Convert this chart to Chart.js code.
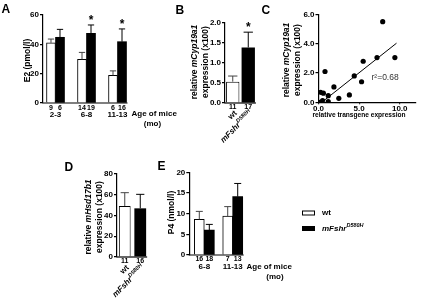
<!DOCTYPE html>
<html>
<head>
<meta charset="utf-8">
<script src="https://cdn.jsdelivr.net/npm/chart.js@4.4.1/dist/chart.umd.min.js"></script>
<style>
  html, body { margin: 0; padding: 0; background: #fff; }
  #fig { position: relative; width: 432px; height: 306px; overflow: hidden; }
  #fig canvas { position: absolute; left: 0; top: 0; }
</style>
</head>
<body>
<div id="fig">
  <canvas id="pA" width="432" height="306"></canvas>
  <canvas id="pB" width="432" height="306"></canvas>
  <canvas id="pC" width="432" height="306"></canvas>
  <canvas id="pD" width="432" height="306"></canvas>
  <canvas id="pE" width="432" height="306"></canvas>
</div>
<script>
// ---- A: serum E2 by age ----
const ageA = ['2-3', '6-8', '11-13'];
const e2Wt = [41, 29.7, 18.8];
const e2WtErr = [43.6, 34.5, 21.9];
const e2Mut = [44.8, 47.5, 41.8];
const e2MutErr = [50.2, 53.2, 50.5];
const e2NWt = [9, 14, 6];
const e2NMut = [6, 19, 16];
const e2Sig = [false, true, true];

// ---- B: mCyp19a1 ----
const genotypes = ['wt', 'mFshr'];
const mutSup = 'D580H';
const cypMean = [0.53, 1.38];
const cypErr = [0.67, 1.76];
const cypN = [11, 17];
const cypSig = [false, true];

// ---- C: mCyp19a1 vs transgene ----
const transgene = [7.9, 9.4, 7.2, 5.5, 4.4, 5.3, 3.8, 2.5, 1.9, 0.8, 0.25, 0.6, 1.2, 1.2, 0.5, 0.2];
const cyp19 = [5.5, 3.05, 3.05, 2.8, 1.8, 1.4, 0.5, 0.27, 1.05, 2.1, 0.68, 0.62, 0.45, 0.05, 0.12, 0.0];
const fitX = [0.4, 9.6];
const fitY = [0, 4.03];
const r2Text = 'r\u00b2=0.68';

// ---- D: mHsd17b1 ----
const hsdMean = [49.2, 46.9];
const hsdErr = [62, 60.4];
const hsdN = [11, 16];

// ---- E: P4 by age ----
const ageE = ['6-8', '11-13'];
const p4Wt = [8.6, 9.4];
const p4WtErr = [10.55, 11.7];
const p4Mut = [6.0, 14.1];
const p4MutErr = [7.4, 17.3];
const p4NWt = [16, 7];
const p4NMut = [18, 13];

const W = 432, H = 306;
const WHITE = '#ffffff', BLACK = '#000000', ERRGREY = '#444444';
const FAM = '"Liberation Sans", Arial, Helvetica, sans-serif';

function seg(t, size, opt = {}) {
  return {
    t,
    font: (opt.italic ? 'italic ' : '') + (opt.weight || 'bold') + ' ' + size + 'px ' + FAM,
    dy: opt.dy || 0,
    color: opt.color
  };
}

const genotypeSegs = [
  [seg(genotypes[0], 8)],
  [seg(genotypes[1], 8, { italic: true }), seg(mutSup, 5.5, { italic: true, dy: -3 })]
];

function drawRich(ctx, segs, x, y, opt = {}) {
  ctx.save();
  ctx.translate(x, y);
  if (opt.rot) ctx.rotate(opt.rot);
  ctx.textAlign = 'left';
  ctx.textBaseline = opt.baseline || 'middle';
  let w = 0;
  segs.forEach(s => { ctx.font = s.font; w += ctx.measureText(s.t).width; });
  let cx = opt.align === 'left' ? 0 : opt.align === 'right' ? -w : -w / 2;
  segs.forEach(s => {
    ctx.font = s.font;
    ctx.fillStyle = s.color || BLACK;
    ctx.fillText(s.t, cx, s.dy);
    cx += ctx.measureText(s.t).width;
  });
  ctx.restore();
}

function pick(v, i) { return Array.isArray(v) ? v[i] : v; }

// error bars, stars, n labels, group labels, x axis line, free texts
function deco(cfg) {
  return {
    id: 'deco',
    afterDraw(chart) {
      const ctx = chart.ctx, ca = chart.chartArea, ys = chart.scales.y;
      ctx.save();
      let lastRight = null;
      (cfg.series || []).forEach((s, d) => {
        chart.getDatasetMeta(d).data.forEach((el, i) => {
          const top = ys.getPixelForValue(s.err[i]);
          const half = el.width * 0.35;
          ctx.strokeStyle = pick(s.errColor, i);
          ctx.lineWidth = 1;
          ctx.beginPath();
          ctx.moveTo(el.x, el.y);
          ctx.lineTo(el.x, top);
          ctx.moveTo(el.x - half, top);
          ctx.lineTo(el.x + half, top);
          ctx.stroke();
          if (s.sig && s.sig[i]) {
            ctx.fillStyle = BLACK;
            ctx.font = 'bold 12px ' + FAM;
            ctx.textAlign = 'center';
            ctx.textBaseline = 'alphabetic';
            ctx.fillText('*', el.x, top - 1);
          }
          if (s.n) {
            ctx.fillStyle = BLACK;
            ctx.font = 'bold 7px ' + FAM;
            ctx.textAlign = 'center';
            ctx.textBaseline = 'middle';
            ctx.fillText(String(s.n[i]), el.x, ca.bottom + cfg.nDy);
          }
          const r = el.x + el.width / 2;
          if (lastRight === null || r > lastRight) lastRight = r;
        });
      });
      if (cfg.groups) {
        cfg.groups.forEach((g, i) => {
          let sum = 0, cnt = 0;
          chart.data.datasets.forEach((ds, d) => {
            const el = chart.getDatasetMeta(d).data[i];
            if (el) { sum += el.x; cnt++; }
          });
          const cx = sum / cnt;
          if (cfg.groupRot) {
            drawRich(ctx, g, cx + cfg.gDx, ca.bottom + cfg.gDy, { rot: cfg.groupRot, align: 'right' });
          } else {
            drawRich(ctx, g, cx, ca.bottom + cfg.gDy);
          }
        });
      }
      if (lastRight !== null) {
        ctx.strokeStyle = BLACK;
        ctx.lineWidth = 1.2;
        ctx.beginPath();
        ctx.moveTo(ca.left - 0.6, ca.bottom);
        ctx.lineTo(lastRight + 1, ca.bottom);
        ctx.stroke();
      }
      (cfg.rects || []).forEach(r => {
        ctx.fillStyle = r.fill;
        ctx.fillRect(r.x, r.y, r.w, r.h);
        if (r.stroke) {
          ctx.strokeStyle = r.stroke;
          ctx.lineWidth = 1;
          ctx.strokeRect(r.x + 0.5, r.y + 0.5, r.w - 1, r.h - 1);
        }
      });
      (cfg.texts || []).forEach(t => drawRich(ctx, t.segs, t.x, t.y, t));
      ctx.restore();
    }
  };
}

function layoutFor(area) {
  return { padding: { left: 0, top: area.top, right: W - area.right, bottom: 0 } };
}

function yAxis(area, max, step, digits) {
  return {
    min: 0, max,
    afterFit: s => { s.width = area.left; },
    ticks: {
      stepSize: step, color: BLACK, padding: 1,
      font: { family: FAM, size: 8, weight: 'bold' },
      callback: v => v.toFixed(digits)
    },
    grid: { drawOnChartArea: false, tickLength: 3, color: BLACK, lineWidth: 1.2 },
    border: { color: BLACK, width: 1.2 }
  };
}

function hiddenX(area, extra) {
  return Object.assign({
    afterFit: s => { s.height = H - area.bottom; },
    ticks: { display: false },
    grid: { display: false },
    border: { display: false }
  }, extra || {});
}

function baseOptions(area, scales) {
  return {
    responsive: false,
    animation: false,
    devicePixelRatio: 1,
    layout: layoutFor(area),
    plugins: { legend: { display: false }, tooltip: { enabled: false } },
    scales
  };
}

function letter(ch, x, y) {
  return { segs: [seg(ch, 12)], x, y, align: 'left' };
}
function yTitle(segs, x, y) {
  return { segs, x, y, rot: -Math.PI / 2 };
}

// ---------- A ----------
const areaA = { left: 43, top: 15, right: 130, bottom: 103 };
new Chart(document.getElementById('pA'), {
  type: 'bar',
  data: {
    datasets: [
      { data: e2Wt.map((v, i) => ({ x: i + 1, y: v })), backgroundColor: WHITE, borderColor: BLACK, borderWidth: 1, barThickness: 9 },
      { data: e2Mut.map((v, i) => ({ x: i + 1, y: v })), backgroundColor: BLACK, borderColor: BLACK, borderWidth: 0, barThickness: 9 }
    ]
  },
  options: baseOptions(areaA, {
    x: hiddenX(areaA, { type: 'linear', min: 0.597, max: 3.403, offset: false }),
    y: yAxis(areaA, 60, 20, 0)
  }),
  plugins: [deco({
    series: [
      { err: e2WtErr, errColor: ERRGREY, n: e2NWt },
      { err: e2MutErr, errColor: BLACK, n: e2NMut, sig: e2Sig }
    ],
    nDy: 5, gDy: 11.5,
    groups: ageA.map(g => [seg(g, 8)]),
    texts: [
      letter('A', 1.5, 9.3),
      yTitle([seg('E2 (pmol/l)', 8.5)], 27.5, 60.5),
      { segs: [seg('Age of mice', 8)], x: 131.5, y: 113.5, align: 'left' },
      { segs: [seg('(mo)', 8)], x: 152.5, y: 124 }
    ]
  })]
});

// ---------- B ----------
const areaB = { left: 225, top: 22.5, right: 256, bottom: 103 };
new Chart(document.getElementById('pB'), {
  type: 'bar',
  data: {
    labels: genotypes,
    datasets: [{
      data: cypMean, backgroundColor: [WHITE, BLACK], borderColor: BLACK, borderWidth: [1, 0],
      categoryPercentage: 0.86, barPercentage: 1
    }]
  },
  options: baseOptions(areaB, {
    x: hiddenX(areaB),
    y: yAxis(areaB, 2, 0.5, 1)
  }),
  plugins: [deco({
    series: [{ err: cypErr, errColor: [ERRGREY, BLACK], n: cypN, sig: cypSig }],
    nDy: 4, gDy: 9, gDx: 3, groupRot: -Math.PI / 4,
    groups: genotypeSegs,
    texts: [
      letter('B', 175.5, 10.5),
      yTitle([seg('relative ', 8.5), seg('mCyp19a1', 8.5, { italic: true })], 195, 62),
      yTitle([seg('expression (x100)', 8.5)], 206, 62)
    ]
  })]
});

// ---------- C ----------
const areaC = { left: 318.5, top: 14.3, right: 416, bottom: 102.3 };
new Chart(document.getElementById('pC'), {
  type: 'scatter',
  data: {
    datasets: [
      { data: transgene.map((x, i) => ({ x, y: cyp19[i] })), pointRadius: 2.6, pointBackgroundColor: BLACK, pointBorderWidth: 0 },
      { type: 'line', data: fitX.map((x, i) => ({ x, y: fitY[i] })), borderColor: BLACK, borderWidth: 1, pointRadius: 0, fill: false }
    ]
  },
  options: baseOptions(areaC, {
    x: {
      type: 'linear', min: 0, max: 12,
      afterFit: s => { s.height = H - areaC.bottom; },
      ticks: {
        stepSize: 5, includeBounds: false, color: BLACK, padding: 0, maxRotation: 0,
        font: { family: FAM, size: 8, weight: 'bold' },
        callback: v => v.toFixed(1)
      },
      grid: { drawOnChartArea: false, tickLength: 2, color: BLACK, lineWidth: 1.2 },
      border: { color: BLACK, width: 1.2 }
    },
    y: yAxis(areaC, 6, 2, 1)
  }),
  plugins: [deco({
    texts: [
      letter('C', 261.5, 10.8),
      yTitle([seg('relative ', 8.5), seg('mCyp19a1', 8.5, { italic: true })], 287, 60),
      yTitle([seg('expression (x100)', 8.5)], 298, 60),
      { segs: [seg('relative transgene expression', 6.6)], x: 359, y: 115 },
      { segs: [seg(r2Text, 8.5, { weight: 'normal', color: '#333' })], x: 371.5, y: 78, align: 'left' }
    ]
  })]
});

// ---------- D ----------
const areaD = { left: 117, top: 174, right: 148, bottom: 257 };
new Chart(document.getElementById('pD'), {
  type: 'bar',
  data: {
    labels: genotypes,
    datasets: [{
      data: hsdMean, backgroundColor: [WHITE, BLACK], borderColor: BLACK, borderWidth: [1, 0],
      categoryPercentage: 0.76, barPercentage: 1
    }]
  },
  options: baseOptions(areaD, {
    x: hiddenX(areaD),
    y: yAxis(areaD, 80, 20, 0)
  }),
  plugins: [deco({
    series: [{ err: hsdErr, errColor: [ERRGREY, BLACK], n: hsdN }],
    nDy: 4, gDy: 9.5, gDx: 3, groupRot: -Math.PI / 4,
    groups: genotypeSegs,
    texts: [
      letter('D', 64.5, 167.5),
      yTitle([seg('relative ', 8.5), seg('mHsd17b1', 8.5, { italic: true })], 88.5, 217),
      yTitle([seg('expression (x100)', 8.5)], 100, 217)
    ]
  })]
});

// ---------- E ----------
const areaE = { left: 189.3, top: 172.3, right: 246, bottom: 255 };
new Chart(document.getElementById('pE'), {
  type: 'bar',
  data: {
    datasets: [
      { data: p4Wt.map((v, i) => ({ x: i + 1, y: v })), backgroundColor: WHITE, borderColor: BLACK, borderWidth: 1, barThickness: 10 },
      { data: p4Mut.map((v, i) => ({ x: i + 1, y: v })), backgroundColor: BLACK, borderColor: BLACK, borderWidth: 0, barThickness: 10 }
    ]
  },
  options: baseOptions(areaE, {
    x: hiddenX(areaE, { type: 'linear', min: 0.472, max: 2.468, offset: false }),
    y: yAxis(areaE, 20, 5, 0)
  }),
  plugins: [deco({
    series: [
      { err: p4WtErr, errColor: ERRGREY, n: p4NWt },
      { err: p4MutErr, errColor: BLACK, n: p4NMut }
    ],
    nDy: 4, gDy: 11.5,
    groups: ageE.map(g => [seg(g, 8)]),
    rects: [
      { x: 302, y: 210.5, w: 13, h: 5, fill: WHITE, stroke: BLACK },
      { x: 302, y: 226, w: 13, h: 5, fill: BLACK }
    ],
    texts: [
      letter('E', 157.5, 166.8),
      yTitle([seg('P4 (nmol/l)', 8.5)], 172, 212.5),
      { segs: [seg('Age of mice', 8)], x: 246.5, y: 266.7, align: 'left' },
      { segs: [seg('(mo)', 8)], x: 275, y: 277 },
      { segs: genotypeSegs[0], x: 322, y: 213.2, align: 'left' },
      { segs: genotypeSegs[1], x: 322, y: 228.7, align: 'left' }
    ]
  })]
});
</script>
</body>
</html>
